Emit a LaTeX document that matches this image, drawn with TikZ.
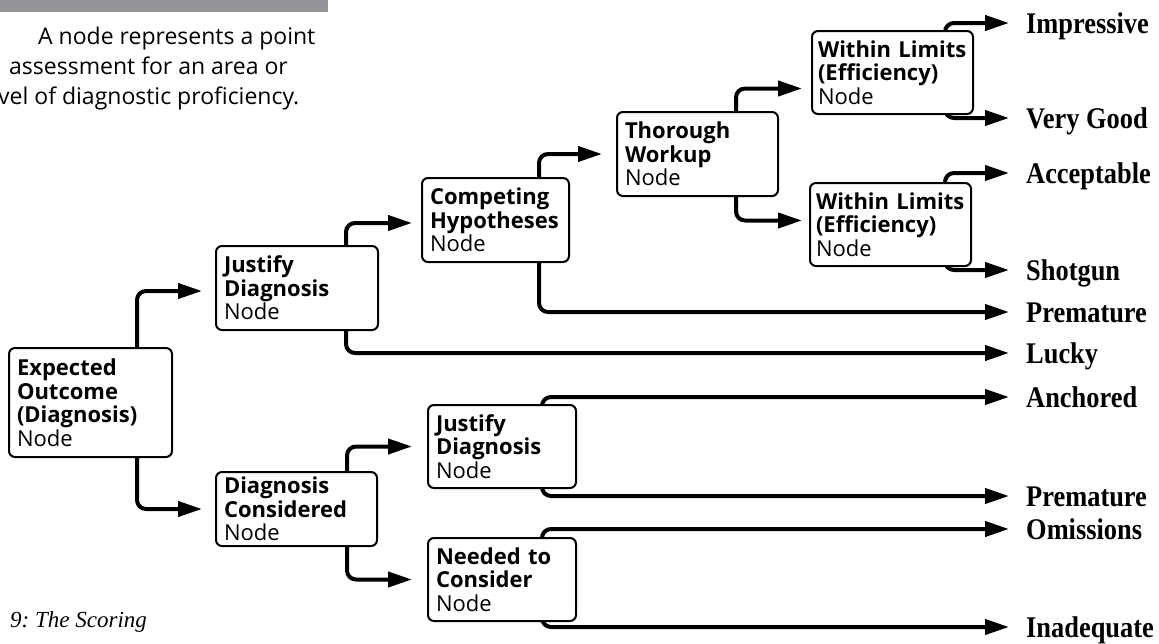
\documentclass[tikz,border=0pt]{standalone}
\usepackage{fontspec}
\usetikzlibrary{arrows.meta,calc}
\newfontfamily\nodefont{Open Sans}
\newfontfamily\outfont[FakeStretch=0.88]{Liberation Serif}
\newfontfamily\capfont{Liberation Serif}
\definecolor{bargray}{HTML}{939598}
\pgfdeclarelayer{bg}
\pgfsetlayers{bg,main}
\begin{document}
\begin{tikzpicture}[x=1pt,y=-1pt,
  box/.style={draw, line width=2pt, rounded corners=6pt, fill=white, anchor=north west,
    align=left, inner xsep=8pt, inner ysep=0pt, font=\nodefont\fontsize{22}{23.5}\selectfont},
  conn/.style={line width=4pt, rounded corners=9pt, -{Triangle[length=24pt,width=15pt]}},
  outc/.style={line width=4pt, rounded corners=9pt, -{Triangle[length=24pt,width=15pt]}, shorten >=17pt},
  outlbl/.style={anchor=west, inner sep=0pt, font=\outfont\bfseries\fontsize{30}{32}\selectfont,
    text height=20pt, text depth=0pt},
  para/.style={anchor=base west, inner sep=0pt, font=\nodefont\fontsize{23}{26}\selectfont},
]
\useasboundingbox (0,0) rectangle (1159,643);
\fill[bargray] (0,0) rectangle (328,12);
\node[para] (p1) at (38,44) {A node represents a point};
\node[para] (p2) at (9,74) {assessment for an area or};
\node[para] (p3) at (-2,104) {vel of diagnostic proficiency.};
\node[anchor=base west, inner sep=0pt, font=\capfont\itshape\fontsize{23}{25}\selectfont] (cap) at (10,627) {9:\ The Scoring};

% boxes
\node[box, text width=147pt, minimum height=109pt] (EO) at (8,347) {\textbf{Expected}\\\textbf{Outcome}\\\textbf{(Diagnosis)}\\Node};
\node[box, text width=146pt, minimum height=84pt] (JD1) at (215,245) {\textbf{Justify}\\\textbf{Diagnosis}\\Node};
\node[box, text width=145pt, minimum height=74pt] (DC) at (215,471) {\textbf{Diagnosis}\\\textbf{Considered}\\Node};
\node[box, text width=131pt, minimum height=84pt] (CH) at (421,177) {\textbf{Competing}\\\textbf{Hypotheses}\\Node};
\node[box, text width=145pt, minimum height=84pt] (TW) at (616,111) {\textbf{Thorough}\\\textbf{Workup}\\Node};
\node[box, inner xsep=6pt, text width=149pt, minimum height=83pt] (WL1) at (811,30) {\mbox{\textbf{Within Limits}}\\\textbf{(Efficiency)}\\Node};
\node[box, inner xsep=6pt, text width=149pt, minimum height=83pt] (WL2) at (809,182) {\mbox{\textbf{Within Limits}}\\\textbf{(Efficiency)}\\Node};
\node[box, text width=132pt, minimum height=83pt] (JD2) at (427,404) {\textbf{Justify}\\\textbf{Diagnosis}\\Node};
\node[box, text width=132pt, minimum height=83pt] (NC) at (427,537) {\mbox{\textbf{Needed to}}\\\textbf{Consider}\\Node};

% outcome labels
\node[outlbl] (imp) at (1026,23) {Impressive};
\node[outlbl] (vg) at (1026,118) {Very Good};
\node[outlbl] (acc) at (1026,173) {Acceptable};
\node[outlbl] (shot) at (1026,270) {Shotgun};
\node[outlbl] (prem1) at (1026,312) {Premature};
\node[outlbl] (lucky) at (1026,353) {Lucky};
\node[outlbl] (anch) at (1026,397) {Anchored};
\node[outlbl] (prem2) at (1026,496) {Premature};
\node[outlbl] (omi) at (1026,529) {Omissions};
\node[outlbl] (inad) at (1026,627) {Inadequate};

\begin{pgfonlayer}{bg}
\draw[conn] ([xshift=-36pt]EO.north east) |- ([xshift=-13pt,yshift=-3pt]JD1.west);
\draw[conn] ([xshift=-36pt]EO.south east) |- ([xshift=-13pt]DC.west);
\draw[conn] ([xshift=-33pt]JD1.north east) |- ([xshift=-9pt,yshift=-3pt]CH.west);
\draw[outc] ([xshift=-33pt]JD1.south east) |- (lucky.west);
\draw[conn] ([xshift=-31pt]CH.north east) |- ([xshift=-14pt]TW.west);
\draw[outc] ([xshift=-31pt]CH.south east) |- (prem1.west);
\draw[conn] ([xshift=-43pt]TW.north east) |- ([xshift=-9pt,yshift=-16pt]WL1.west);
\draw[conn] ([xshift=-43pt]TW.south east) |- ([xshift=-7pt,yshift=4pt]WL2.west);
\draw[outc] ([xshift=-29pt]WL1.east) |- (imp.west);
\draw[outc] ([xshift=-29pt]WL1.east) |- (vg.west);
\draw[outc] ([xshift=-27pt]WL2.east) |- (acc.west);
\draw[outc] ([xshift=-27pt]WL2.east) |- (shot.west);
\draw[conn] ([xshift=-31pt]DC.north east) |- ([xshift=-15pt]JD2.west);
\draw[conn] ([xshift=-31pt]DC.south east) |- ([xshift=-15pt]NC.west);
\draw[outc] ([xshift=-35pt]JD2.east) |- (anch.west);
\draw[outc] ([xshift=-35pt]JD2.east) |- (prem2.west);
\draw[outc] ([xshift=-35pt]NC.east) |- (omi.west);
\draw[outc] ([xshift=-35pt]NC.east) |- (inad.west);
\end{pgfonlayer}
\end{tikzpicture}
\end{document}
